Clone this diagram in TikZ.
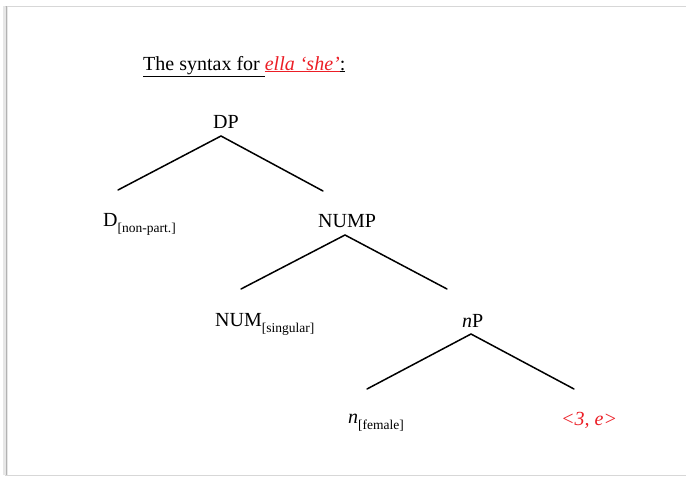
\documentclass[tikz,border=0pt]{standalone}
\usepackage{fontspec}
\setmainfont{Liberation Serif}
\definecolor{hlred}{RGB}{236,30,38}
\definecolor{framegray}{RGB}{215,215,215}
\begin{document}
\begin{tikzpicture}[x=1pt,y=-1pt,
  lbl/.style={anchor=base west,inner sep=0pt,font=\fontsize{20}{24}\selectfont},
  sub/.style={},
  branch/.style={line width=1.5pt,line cap=round}]
\useasboundingbox (0,0) rectangle (686,477);
\fill[white] (0,0) rectangle (686,477);
% slide frame
\fill[framegray!60] (3,6) rectangle (8,475);
\draw[framegray,line width=1pt] (5,6) -- (686,6);
\draw[framegray,line width=1pt] (5,475) -- (686,475);
\draw[gray!60,line width=1pt] (6,6) -- (6,475);

% heading
\node[lbl] (title) at (143,70)
  {\underline{The syntax for }\textcolor{hlred}{\underline{\textit{ella ‘she’}}}\underline{:}};

\newcommand{\subtag}[1]{\raisebox{-6pt}{\fontsize{13.5}{15}\selectfont[#1]}}

% tree labels
\node[lbl] (dp)   at (213,128) {DP};
\node[lbl] (d)    at (103,226) {D\subtag{non-part.}};
\node[lbl] (nump) at (318,227) {NUMP};
\node[lbl] (num)  at (215,326) {NUM\subtag{singular}};
\node[lbl] (np)   at (462,327) {\textit{n}P};
\node[lbl] (n)    at (348,423) {\textit{n}\subtag{female}};
\node[lbl,text=hlred] (phi) at (561,425) {\textit{<3, e>}};

% branch points
\coordinate (dp-top)   at (221,136);
\coordinate (dp-l)     at (118,190);
\coordinate (dp-r)     at (323,191);
\coordinate (nump-top) at (345,235);
\coordinate (nump-l)   at (241,289);
\coordinate (nump-r)   at (447,289);
\coordinate (np-top)   at (471,334);
\coordinate (np-l)     at (367,389);
\coordinate (np-r)     at (574,389);

\draw[branch] (dp-l) -- (dp-top) -- (dp-r);
\draw[branch] (nump-l) -- (nump-top) -- (nump-r);
\draw[branch] (np-l) -- (np-top) -- (np-r);
\end{tikzpicture}
\end{document}
